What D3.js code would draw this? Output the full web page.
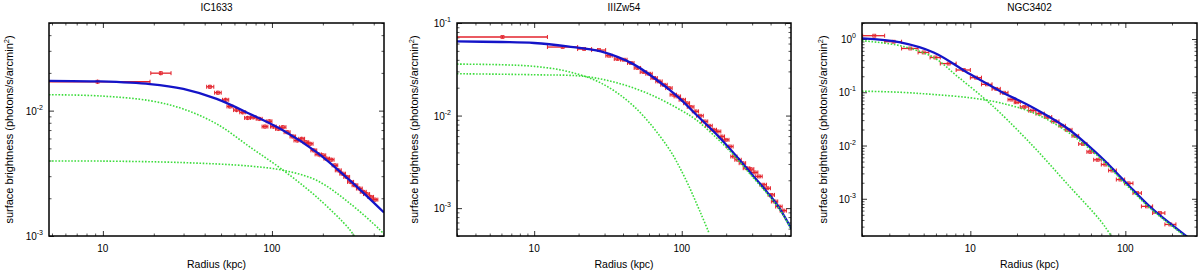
<!DOCTYPE html>
<html>
<head>
<meta charset="utf-8">
<script src="https://cdn.jsdelivr.net/npm/d3@7"></script>
<style>
  body { margin: 0; background: #fff; }
  text { font-family: "Liberation Sans", Arial, sans-serif; }
</style>
</head>
<body>
<svg id="chart" width="1200" height="271"></svg>
<script>
// ---- data ----
// model curves: [radius kpc, surface brightness]
const ic1633Total = [[4.8,0.0173],[9.6,0.0171],[19,0.0163],[29.9,0.0149],[47.1,0.0124],[74.2,0.0094],[116.7,0.00694],[183.6,0.00467],[289,0.00278],[460,0.00154]];
const ic1633Core  = [[4.8,0.0134],[9.6,0.0131],[19,0.0120],[29.9,0.0103],[47.1,0.00784],[74.2,0.00512],[116.7,0.00334],[183.6,0.00205],[289,0.00112],[330,0.00085]];
const ic1633Halo  = [[4.8,0.00396],[9.6,0.00396],[29.9,0.00385],[74.2,0.00361],[116.7,0.00334],[183.6,0.00278],[289,0.00182],[435,0.00112],[470,0.001]];
// points: [radius, sb, rLow, rHigh]
const ic1633Points = [
  [9.3,0.0170,3,19.0],[22.0,0.0199,19.2,25.3],[43.0,0.0155,41.1,45.3],[47.9,0.0139,45.8,50.1],
  [53.2,0.0122,51,55.5],[56.4,0.0108,54.2,58.7],[61.8,0.0101,59.3,64.3],[67.2,0.0097,64.5,69.9],
  [71.8,0.00875,68.9,74.7],[77.4,0.00885,74.3,80.5],[84.1,0.0086,80.7,87.5],[91.0,0.00746,87.4,94.6],
  [96.4,0.00822,92.5,100],[102,0.00746,98,106],[109,0.00716,105,113],[116,0.00738,111,121],
  [123,0.00673,118,128],[133,0.00622,128,138],[141,0.00578,135,147],[150,0.00596,144,156],
  [159,0.0056,153,165],[168,0.00544,161,175],[177,0.00482,170,184],[188,0.00448,180,196],
  [200,0.0044,192,208],[211,0.00414,203,219],[224,0.00406,215,233],[236,0.00366,227,245],
  [247,0.00334,237,257],[262,0.00314,252,272],[277,0.00296,266,288],[292,0.0027,280,304],
  [310,0.00254,298,322],[329,0.00239,316,342],[347,0.00225,333,361],[363,0.00216,348,378],
  [384,0.00205,369,399],[407,0.00195,391,423]
];
const ic1633SbErr = 0.04;

const iiizw54Total = [[3,0.0632],[6,0.0623],[10,0.0608],[16.8,0.0559],[28.3,0.0493],[47.6,0.0355],[80,0.0198],[100,0.0146],[124,0.0104],[175,0.0061],[226,0.0039],[300,0.0023],[380,0.00148],[455,0.00102],[553,0.0006]];
const iiizw54Core  = [[3,0.036],[6,0.0354],[10,0.034],[16.8,0.030],[28.3,0.0225],[47.6,0.0125],[80,0.00463],[104,0.0022],[134.5,0.00088],[153,0.00054]];
const iiizw54Halo  = [[3,0.0283],[10,0.0276],[21.8,0.0265],[36.7,0.0225],[61.7,0.0168],[100,0.0113],[124,0.0091],[175,0.0056],[226,0.0037],[300,0.0022],[380,0.00143],[455,0.001],[553,0.00059]];
const iiizw54Points = [
  [6.1,0.0706,2,12.3],[15.6,0.055,12.3,19.7],[21.8,0.0523,19.7,24.5],[27.5,0.0510,24.5,30.5],
  [32.2,0.0443,30.6,33.8],[36.7,0.0408,34.9,38.5],[40.6,0.0401,38.6,42.6],[45.2,0.037,42.9,47.5],
  [50.1,0.0327,47.6,52.6],[55.1,0.0295,52.3,57.9],[60.1,0.0283,57.1,63.1],[65,0.0254,61.8,68.3],
  [70.2,0.0234,66.7,73.7],[75.9,0.0215,72.1,79.7],[82,0.0198,77.9,86.1],[87.8,0.0168,83.4,92.2],
  [93.5,0.0161,88.8,98.2],[101,0.0148,96,106],[108,0.0136,103,113],[115,0.0124,109,121],
  [124,0.0111,118,130],[133,0.00995,126,140],[143,0.00864,136,150],[153,0.00776,145,161],
  [164,0.00702,156,172],[175,0.00673,166,184],[186,0.00594,177,195],[199,0.00547,189,209],
  [212,0.00463,201,223],[226,0.00361,215,237],[241,0.00333,229,253],[258,0.00306,245,271],
  [275,0.0027,261,289],[293,0.00264,278,308],[312,0.00243,296,328],[334,0.0022,317,351],
  [357,0.00179,339,375],[380,0.00164,361,399],[405,0.00139,385,425],[426,0.00118,405,447],
  [456,0.00104,433,479],[488,0.00094,464,512]
];
const iiizw54SbErr = 0.03;

const ngc3402Total = [[2,1.03],[3.53,0.866],[5.8,0.56],[10,0.217],[15.6,0.105],[25.6,0.0508],[42,0.0213],[69,0.00617],[100,0.00207],[145,0.000697],[250,0.000194],[290,0.00014]];
const ngc3402Core  = [[2,0.93],[3.53,0.748],[5.8,0.45],[8.2,0.202],[12.2,0.078],[15.6,0.0409],[25.6,0.0095],[42,0.00193],[69,0.00039],[82,0.000194],[90,0.00014]];
const ngc3402Halo  = [[2,0.105],[3.53,0.1],[5.8,0.0908],[10,0.0787],[15.6,0.0632],[25.6,0.0409],[42,0.0184],[69,0.00574],[100,0.0019],[145,0.00066],[250,0.000185],[290,0.000135]];
const ngc3402Points = [
  [2.4,1.155,2.02,2.8],[3.2,0.89,2.8,3.6],[4.1,0.665,3.6,4.6],[5.0,0.56,4.6,5.4],
  [5.95,0.45,5.5,6.4],[7.25,0.346,6.4,8.1],[9.06,0.262,8.1,10.0],[10.9,0.188,10.0,11.8],
  [12.8,0.141,11.8,13.8],[14.7,0.116,13.8,15.6],[16.5,0.098,15.6,17.5],[18.4,0.073,17.5,19.5],
  [20,0.065,19.2,21],[22.3,0.053,21,23.8],[25,0.0452,23.8,26.5],[28,0.0397,26.5,30],
  [31.5,0.0343,30,33.5],[35.3,0.0284,33.5,37.3],[39,0.0235,37.3,41],[43.1,0.0197,41,45.3],
  [47.6,0.0152,45.3,50],[53.3,0.0107,50,56.5],[59.4,0.0076,56.5,62.5],[66.3,0.0054,62.5,70],
  [74.3,0.0044,70,78],[82.5,0.0034,78,87.5],[93,0.0023,87.5,99],[105,0.00195,99,112],
  [119,0.00128,112,127],[138,0.00072,127,150],[167,0.00054,150,180],[195,0.00033,180,212]
];
const ngc3402SbErr = 0.04;

const titles = ["IC1633", "IIIZw54", "NGC3402"];
const xDomains = [[4.8, 460], [3, 550], [2, 290]];
const yDomains = [[0.001, 0.05], [0.0005, 0.1], [0.0002, 2]];
const xMajor = [[10, 100], [10, 100], [10, 100]];
const yMajor = [[0.01, 0.001], [0.1, 0.01, 0.001], [1, 0.1, 0.01, 0.001]];

// ---- drawing ----
const svg = d3.select("#chart");
svg.append("rect").attr("width", 1200).attr("height", 271).attr("fill", "#fff");

const boxes = [[49, 384], [457, 791], [862, 1197]];
const plotTop = 23, plotBottom = 236;
const ylabX = [13, 418, 827];

const series = [
  { total: ic1633Total, core: ic1633Core, halo: ic1633Halo, pts: ic1633Points, err: ic1633SbErr },
  { total: iiizw54Total, core: iiizw54Core, halo: iiizw54Halo, pts: iiizw54Points, err: iiizw54SbErr },
  { total: ngc3402Total, core: ngc3402Core, halo: ngc3402Halo, pts: ngc3402Points, err: ngc3402SbErr }
];

const red = "#e3232c";

series.forEach((s, i) => {
  const [left, right] = boxes[i];
  const x = d3.scaleLog().domain(xDomains[i]).range([left, right]);
  const y = d3.scaleLog().domain(yDomains[i]).range([plotBottom, plotTop]);
  const g = svg.append("g");

  g.append("clipPath").attr("id", "clip" + i)
    .append("rect").attr("x", left).attr("y", plotTop)
    .attr("width", right - left).attr("height", plotBottom - plotTop);

  // minor + major ticks on all four sides, pointing inward
  const xMinor = x.ticks().filter(v => !xMajor[i].includes(v));
  const yMinor = y.ticks().filter(v => !yMajor[i].some(m => Math.abs(m - v) / m < 1e-6));

  const tickAxes = [
    [d3.axisBottom(x), `translate(0,${plotBottom})`, xMinor, xMajor[i]],
    [d3.axisTop(x), `translate(0,${plotTop})`, xMinor, xMajor[i]],
    [d3.axisLeft(y), `translate(${left},0)`, yMinor, yMajor[i]],
    [d3.axisRight(y), `translate(${right},0)`, yMinor, yMajor[i]]
  ];
  tickAxes.forEach(([ax, tr, minor, major]) => {
    const gm = g.append("g").attr("transform", tr)
      .call(ax.tickValues(minor).tickSize(-2.5).tickFormat(""));
    gm.select(".domain").remove();
    gm.selectAll("line").attr("stroke", "#555");
    const gM = g.append("g").attr("transform", tr)
      .call(ax.tickValues(major).tickSize(-5).tickFormat(""));
    gM.select(".domain").remove();
    gM.selectAll("line").attr("stroke", "#333");
  });

  // x tick labels
  g.append("g").selectAll("text")
    .data(xMajor[i]).enter().append("text")
    .attr("x", d => x(d)).attr("y", plotBottom + 16)
    .attr("text-anchor", "middle").attr("font-size", 10)
    .text(d => d);

  // y tick labels 10^n
  const yl = g.append("g").selectAll("text")
    .data(yMajor[i]).enter().append("text")
    .attr("x", left - 6).attr("y", d => y(d) + 4)
    .attr("text-anchor", "end").attr("font-size", 10);
  yl.append("tspan").text("10");
  yl.append("tspan").attr("dy", -5).attr("font-size", 7)
    .text(d => Math.round(Math.log10(d)));

  // data points
  const pg = g.append("g").attr("clip-path", `url(#clip${i})`);
  const pts = pg.selectAll("g.pt").data(s.pts).enter().append("g").attr("class", "pt");
  pts.append("line")
    .attr("x1", d => x(d[2])).attr("x2", d => x(d[3]))
    .attr("y1", d => y(d[1])).attr("y2", d => y(d[1]))
    .attr("stroke", red).attr("stroke-width", 1.3);
  pts.append("line")
    .attr("x1", d => x(d[2])).attr("x2", d => x(d[2]))
    .attr("y1", d => y(d[1]) - 2).attr("y2", d => y(d[1]) + 2)
    .attr("stroke", red).attr("stroke-width", 1);
  pts.append("line")
    .attr("x1", d => x(d[3])).attr("x2", d => x(d[3]))
    .attr("y1", d => y(d[1]) - 2).attr("y2", d => y(d[1]) + 2)
    .attr("stroke", red).attr("stroke-width", 1);
  pts.append("line")
    .attr("x1", d => x(d[0])).attr("x2", d => x(d[0]))
    .attr("y1", d => y(d[1] * (1 + s.err))).attr("y2", d => y(d[1] * (1 - s.err)))
    .attr("stroke", red).attr("stroke-width", 1);
  pts.append("rect")
    .attr("x", d => x(d[0]) - 1.5).attr("y", d => y(d[1]) - 1.5)
    .attr("width", 3).attr("height", 3)
    .attr("fill", "none").attr("stroke", red).attr("stroke-width", 0.8);

  // model curves
  const line = d3.line().x(d => x(d[0])).y(d => y(d[1])).curve(d3.curveCatmullRom.alpha(0.5));
  const cg = g.append("g").attr("clip-path", `url(#clip${i})`);
  cg.append("path").attr("d", line(s.total))
    .attr("fill", "none").attr("stroke", "#1414c8").attr("stroke-width", 2.3);
  [s.core, s.halo].forEach(c => {
    cg.append("path").attr("d", line(c))
      .attr("fill", "none").attr("stroke", "#3ddc3d")
      .attr("stroke-width", 1.6).attr("stroke-dasharray", "1.6,1.6");
  });

  // frame
  g.append("rect").attr("x", left).attr("y", plotTop)
    .attr("width", right - left).attr("height", plotBottom - plotTop)
    .attr("fill", "none").attr("stroke", "#000").attr("stroke-width", 1.5);

  // titles and axis labels
  g.append("text").attr("x", (left + right) / 2).attr("y", 11)
    .attr("text-anchor", "middle").attr("font-size", 10).text(titles[i]);
  g.append("text").attr("x", (left + right) / 2).attr("y", 268)
    .attr("text-anchor", "middle").attr("font-size", 10.5).text("Radius (kpc)");
  const yt = g.append("text")
    .attr("transform", `translate(${ylabX[i]},${(plotTop + plotBottom) / 2}) rotate(-90)`)
    .attr("text-anchor", "middle").attr("font-size", 11);
  yt.append("tspan").text("surface brightness (photons/s/arcmin");
  yt.append("tspan").attr("dy", -4).attr("font-size", 7.5).text("2");
  yt.append("tspan").attr("dy", 4).text(")");
});
</script>
</body>
</html>
